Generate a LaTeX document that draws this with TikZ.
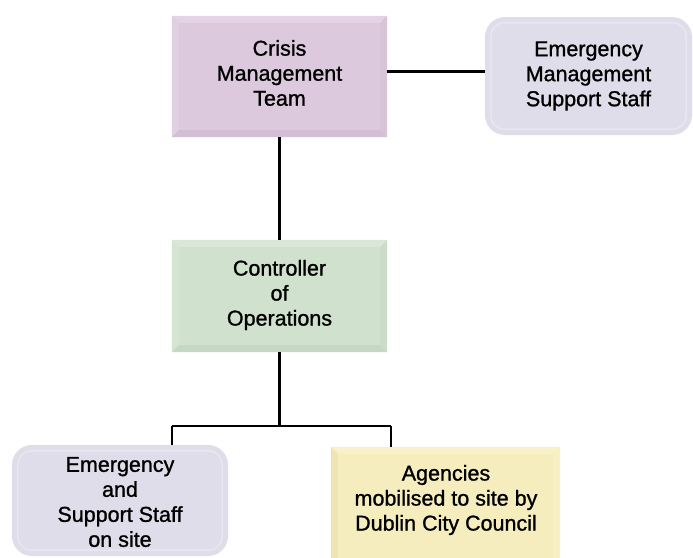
\documentclass[tikz,border=0pt]{standalone}
\usepackage{fontspec}
\setmainfont{Liberation Sans}[FakeBold=1.1]
\usetikzlibrary{calc}
\definecolor{cmtfill}{HTML}{DCC9DD}
\definecolor{cmttop}{HTML}{E3D3E4}
\definecolor{cmtleft}{HTML}{E0CEE1}
\definecolor{cmtbot}{HTML}{D3BED5}
\definecolor{cmtright}{HTML}{D8C4D9}
\definecolor{coofill}{HTML}{D0E1CD}
\definecolor{cootop}{HTML}{D9E8D6}
\definecolor{cooleft}{HTML}{D5E5D2}
\definecolor{coobot}{HTML}{C5D8C2}
\definecolor{cooright}{HTML}{CBDDC8}
\definecolor{agfill}{HTML}{F5EDBD}
\definecolor{agtop}{HTML}{F7F0C8}
\definecolor{agleft}{HTML}{EEE5B3}
\definecolor{agbot}{HTML}{EEE5B0}
\definecolor{agright}{HTML}{F7F0C4}
\definecolor{rdfill}{HTML}{DFDDEA}
\definecolor{rdrim}{HTML}{E8E7F0}
\newcommand{\bevelbox}[5]{%
  \fill[#2] (#1.north west) -- (#1.north east) -- ($(#1.north east)+(-7,7)$) -- ($(#1.north west)+(7,7)$) -- cycle;
  \fill[#3] (#1.north west) -- ($(#1.north west)+(7,7)$) -- ($(#1.south west)+(7,-7)$) -- (#1.south west) -- cycle;
  \fill[#4] (#1.south west) -- ($(#1.south west)+(7,-7)$) -- ($(#1.south east)+(-7,-7)$) -- (#1.south east) -- cycle;
  \fill[#5] (#1.north east) -- (#1.south east) -- ($(#1.south east)+(-7,-7)$) -- ($(#1.north east)+(-7,7)$) -- cycle;
}
\tikzset{
  lbl/.style={align=center, font=\fontsize{21.5}{25}\selectfont, text=black, inner sep=0pt},
  sqbox/.style={rectangle, inner sep=0pt},
  rdbox/.style={rectangle, rounded corners=20pt, inner sep=0pt},
  conn/.style={line width=3pt, black},
  brk/.style={line width=2pt, black},
}
\begin{document}
\begin{tikzpicture}[x=1pt,y=-1pt]
\useasboundingbox (0,0) rectangle (693,557);
\fill[white] (0,0) rectangle (693,557);

% Crisis Management Team
\node[sqbox, fill=cmtfill, minimum width=215pt, minimum height=121pt] (cmt) at (279.5,76.5) {};
\bevelbox{cmt}{cmttop}{cmtleft}{cmtbot}{cmtright}
\node[lbl] (cmtl) at (279.5,73) {Crisis\\Management\\Team};

% Emergency Management Support Staff
\node[rdbox, fill=rdfill, minimum width=207pt, minimum height=118pt] (emss) at (588.5,76) {};
\draw[rdrim, line width=1.5pt, rounded corners=14pt] ($(emss.north west)+(6,6)$) rectangle ($(emss.south east)+(-6,-6)$);
\node[lbl] (emssl) at (588.5,76) {Emergency\\Management\\Support Staff};

% Controller of Operations
\node[sqbox, fill=coofill, minimum width=215pt, minimum height=112pt] (coo) at (279.5,296) {};
\bevelbox{coo}{cootop}{cooleft}{coobot}{cooright}
\node[lbl] (cool) at (279.5,295) {Controller\\of\\Operations};

% Emergency and Support Staff on site
\node[rdbox, fill=rdfill, minimum width=216pt, minimum height=111pt] (ess) at (120,500.5) {};
\draw[rdrim, line width=1.5pt, rounded corners=14pt] ($(ess.north west)+(6,6)$) rectangle ($(ess.south east)+(-6,-6)$);
\node[lbl] (essl) at (120,502) {Emergency\\and\\Support Staff\\on site};

% Agencies
\node[sqbox, fill=agfill, minimum width=229pt, minimum height=120pt] (ag) at (445.5,507) {};
\bevelbox{ag}{agtop}{agleft}{agbot}{agright}
\node[lbl] (agl) at (446,500) {Agencies\\mobilised to site by\\Dublin City Council};

% connectors
\coordinate (hy) at (0,71.5);
\draw[conn] (cmt.east |- hy) -- (emss.west |- hy);
\draw[conn] (cmt.south) -- (coo.north);
\coordinate (split) at (279.5,426);
\coordinate (bl) at (172,426);
\coordinate (br) at (390.5,426);
\draw[conn] (coo.south) -- (split);
\draw[brk] (bl) -- (br);
\draw[brk] (bl) -- (bl |- ess.north);
\draw[brk] (br) -- (br |- ag.north);
\end{tikzpicture}
\end{document}
